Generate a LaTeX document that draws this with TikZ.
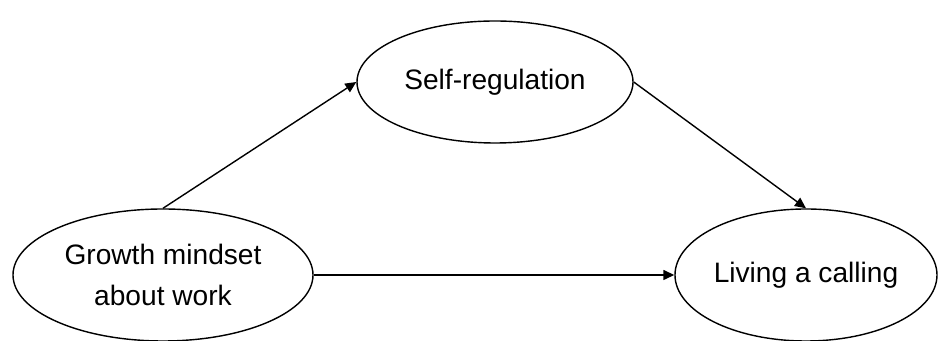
\documentclass[tikz,border=0pt]{standalone}
\usepackage{fontspec}
\setmainfont{Liberation Sans}
\usetikzlibrary{shapes.geometric,arrows.meta}

\begin{document}
\begin{tikzpicture}[
  var/.style={draw, ellipse, line width=0.8pt, inner sep=0pt, align=center,
    font=\fontsize{16}{23}\selectfont},
  path/.style={-{Triangle[length=2.2mm,width=2mm]}, line width=0.8pt}]
  \useasboundingbox (0,0) rectangle (18.76,6.82);

  % Draw the three ellipses
  \node[var, minimum width=6cm, minimum height=2.64cm] (growth) at (3.26,1.32) {Growth mindset\\about work};
  \node[var, minimum width=5.52cm, minimum height=2.44cm] (selfreg) at (9.9,5.18) {Self-regulation};
  \node[var, minimum width=5.24cm, minimum height=2.64cm] (calling) at (16.12,1.32) {Living a calling};

  % Paths between them
  \draw[path] (growth.north) -- (selfreg.west);
  \draw[path] (selfreg.east) -- (calling.north);
  \draw[path] (growth.east) -- (calling.west);

\end{tikzpicture}
\end{document}
